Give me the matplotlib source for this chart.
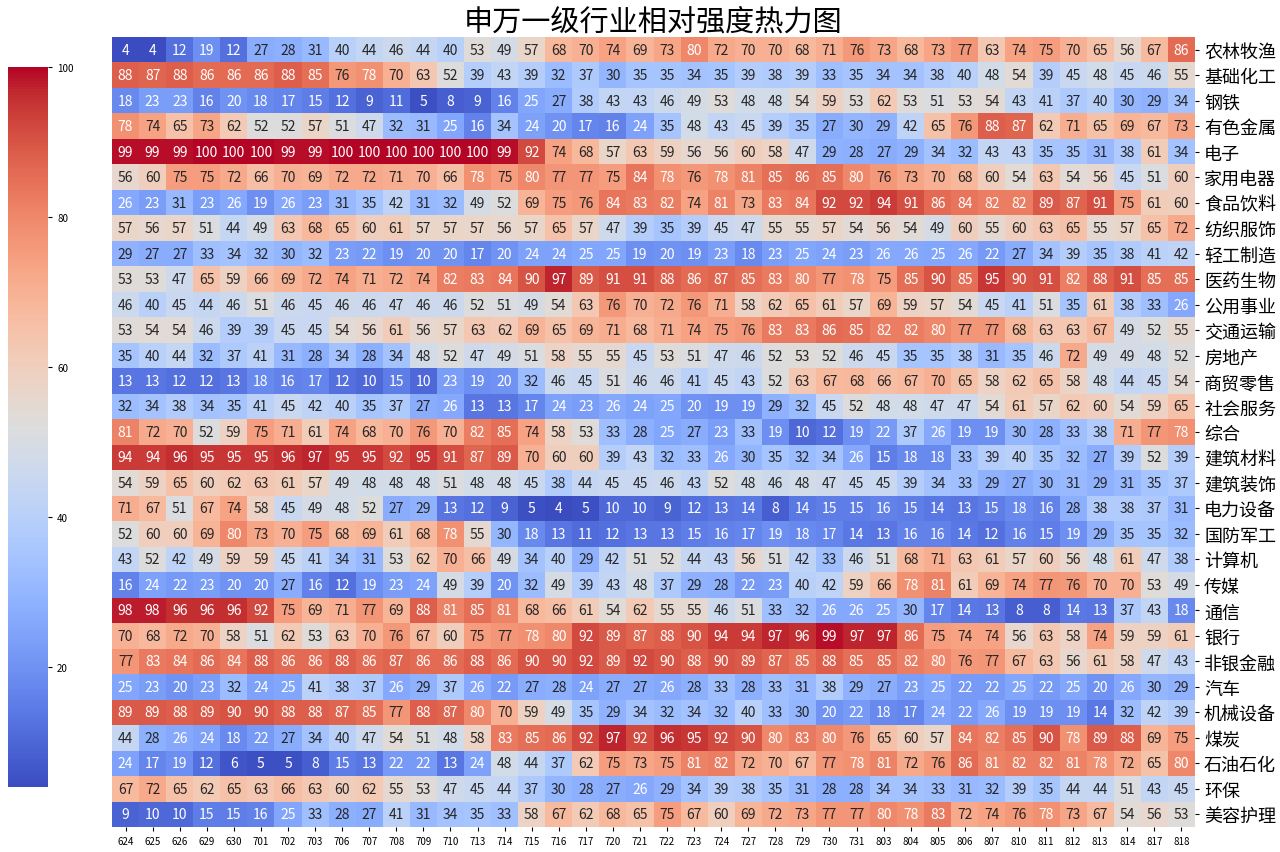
import matplotlib
matplotlib.use('Agg')
import matplotlib.pyplot as plt
import numpy as np
import pandas as pd
import seaborn as sns

plt.rcParams['font.family'] = ['Noto Sans CJK SC', 'DejaVu Sans']

dates = ['624', '625', '626', '629', '630', '701', '702', '703', '706', '707',
         '708', '709', '710', '713', '714', '715', '716', '717', '720', '721',
         '722', '723', '724', '727', '728', '729', '730', '731', '803', '804',
         '805', '806', '807', '810', '811', '812', '813', '814', '817', '818']

industries = ['农林牧渔', '基础化工', '钢铁', '有色金属', '电子', '家用电器', '食品饮料',
              '纺织服饰', '轻工制造', '医药生物', '公用事业', '交通运输', '房地产', '商贸零售',
              '社会服务', '综合', '建筑材料', '建筑装饰', '电力设备', '国防军工', '计算机',
              '传媒', '通信', '银行', '非银金融', '汽车', '机械设备', '煤炭', '石油石化',
              '环保', '美容护理']

# relative strength score per industry, one row per industry, one column per date
scores = [
    [4, 4, 12, 19, 12, 27, 28, 31, 40, 44, 46, 44, 40, 53, 49, 57, 68, 70, 74, 69, 73, 80, 72, 70, 70, 68, 71, 76, 73, 68, 73, 77, 63, 74, 75, 70, 65, 56, 67, 86],
    [88, 87, 88, 86, 86, 86, 88, 85, 76, 78, 70, 63, 52, 39, 43, 39, 32, 37, 30, 35, 35, 34, 35, 39, 38, 39, 33, 35, 34, 34, 38, 40, 48, 54, 39, 45, 48, 45, 46, 55],
    [18, 23, 23, 16, 20, 18, 17, 15, 12, 9, 11, 5, 8, 9, 16, 25, 27, 38, 43, 43, 46, 49, 53, 48, 48, 54, 59, 53, 62, 53, 51, 53, 54, 43, 41, 37, 40, 30, 29, 34],
    [78, 74, 65, 73, 62, 52, 52, 57, 51, 47, 32, 31, 25, 16, 34, 24, 20, 17, 16, 24, 35, 48, 43, 45, 39, 35, 27, 30, 29, 42, 65, 76, 88, 87, 62, 71, 65, 69, 67, 73],
    [99, 99, 99, 100, 100, 100, 99, 99, 100, 100, 100, 100, 100, 100, 99, 92, 74, 68, 57, 63, 59, 56, 56, 60, 58, 47, 29, 28, 27, 29, 34, 32, 43, 43, 35, 35, 31, 38, 61, 34],
    [56, 60, 75, 75, 72, 66, 70, 69, 72, 72, 71, 70, 66, 78, 75, 80, 77, 77, 75, 84, 78, 76, 78, 81, 85, 86, 85, 80, 76, 73, 70, 68, 60, 54, 63, 54, 56, 45, 51, 60],
    [26, 23, 31, 23, 26, 19, 26, 23, 31, 35, 42, 31, 32, 49, 52, 69, 75, 76, 84, 83, 82, 74, 81, 73, 83, 84, 92, 92, 94, 91, 86, 84, 82, 82, 89, 87, 91, 75, 61, 60],
    [57, 56, 57, 51, 44, 49, 63, 68, 65, 60, 61, 57, 57, 57, 56, 57, 65, 57, 47, 39, 35, 39, 45, 47, 55, 55, 57, 54, 56, 54, 49, 60, 55, 60, 63, 65, 55, 57, 65, 72],
    [29, 27, 27, 33, 34, 32, 30, 32, 23, 22, 19, 20, 20, 17, 20, 24, 24, 25, 25, 19, 20, 19, 23, 18, 23, 25, 24, 23, 26, 26, 25, 26, 22, 27, 34, 39, 35, 38, 41, 42],
    [53, 53, 47, 65, 59, 66, 69, 72, 74, 71, 72, 74, 82, 83, 84, 90, 97, 89, 91, 91, 88, 86, 87, 85, 83, 80, 77, 78, 75, 85, 90, 85, 95, 90, 91, 82, 88, 91, 85, 85],
    [46, 40, 45, 44, 46, 51, 46, 45, 46, 46, 47, 46, 46, 52, 51, 49, 54, 63, 76, 70, 72, 76, 71, 58, 62, 65, 61, 57, 69, 59, 57, 54, 45, 41, 51, 35, 61, 38, 33, 26],
    [53, 54, 54, 46, 39, 39, 45, 45, 54, 56, 61, 56, 57, 63, 62, 69, 65, 69, 71, 68, 71, 74, 75, 76, 83, 83, 86, 85, 82, 82, 80, 77, 77, 68, 63, 63, 67, 49, 52, 55],
    [35, 40, 44, 32, 37, 41, 31, 28, 34, 28, 34, 48, 52, 47, 49, 51, 58, 55, 55, 45, 53, 51, 47, 46, 52, 53, 52, 46, 45, 35, 35, 38, 31, 35, 46, 72, 49, 49, 48, 52],
    [13, 13, 12, 12, 13, 18, 16, 17, 12, 10, 15, 10, 23, 19, 20, 32, 46, 45, 51, 46, 46, 41, 45, 43, 52, 63, 67, 68, 66, 67, 70, 65, 58, 62, 65, 58, 48, 44, 45, 54],
    [32, 34, 38, 34, 35, 41, 45, 42, 40, 35, 37, 27, 26, 13, 13, 17, 24, 23, 26, 24, 25, 20, 19, 19, 29, 32, 45, 52, 48, 48, 47, 47, 54, 61, 57, 62, 60, 54, 59, 65],
    [81, 72, 70, 52, 59, 75, 71, 61, 74, 68, 70, 76, 70, 82, 85, 74, 58, 53, 33, 28, 25, 27, 23, 33, 19, 10, 12, 19, 22, 37, 26, 19, 19, 30, 28, 33, 38, 71, 77, 78],
    [94, 94, 96, 95, 95, 95, 96, 97, 95, 95, 92, 95, 91, 87, 89, 70, 60, 60, 39, 43, 32, 33, 26, 30, 35, 32, 34, 26, 15, 18, 18, 33, 39, 40, 35, 32, 27, 39, 52, 39],
    [54, 59, 65, 60, 62, 63, 61, 57, 49, 48, 48, 48, 51, 48, 48, 45, 38, 44, 45, 45, 46, 43, 52, 48, 46, 48, 47, 45, 45, 39, 34, 33, 29, 27, 30, 31, 29, 31, 35, 37],
    [71, 67, 51, 67, 74, 58, 45, 49, 48, 52, 27, 29, 13, 12, 9, 5, 4, 5, 10, 10, 9, 12, 13, 14, 8, 14, 15, 15, 16, 15, 14, 13, 15, 18, 16, 28, 38, 38, 37, 31],
    [52, 60, 60, 69, 80, 73, 70, 75, 68, 69, 61, 68, 78, 55, 30, 18, 13, 11, 12, 13, 13, 15, 16, 17, 19, 18, 17, 14, 13, 16, 16, 14, 12, 16, 15, 19, 29, 35, 35, 32],
    [43, 52, 42, 49, 59, 59, 45, 41, 34, 31, 53, 62, 70, 66, 49, 34, 40, 29, 42, 51, 52, 44, 43, 56, 51, 42, 33, 46, 51, 68, 71, 63, 61, 57, 60, 56, 48, 61, 47, 38],
    [16, 24, 22, 23, 20, 20, 27, 16, 12, 19, 23, 24, 49, 39, 20, 32, 49, 39, 43, 48, 37, 29, 28, 22, 23, 40, 42, 59, 66, 78, 81, 61, 69, 74, 77, 76, 70, 70, 53, 49],
    [98, 98, 96, 96, 96, 92, 75, 69, 71, 77, 69, 88, 81, 85, 81, 68, 66, 61, 54, 62, 55, 55, 46, 51, 33, 32, 26, 26, 25, 30, 17, 14, 13, 8, 8, 14, 13, 37, 43, 18],
    [70, 68, 72, 70, 58, 51, 62, 53, 63, 70, 76, 67, 60, 75, 77, 78, 80, 92, 89, 87, 88, 90, 94, 94, 97, 96, 99, 97, 97, 86, 75, 74, 74, 56, 63, 58, 74, 59, 59, 61],
    [77, 83, 84, 86, 84, 88, 86, 86, 88, 86, 87, 86, 86, 88, 86, 90, 90, 92, 89, 92, 90, 88, 90, 89, 87, 85, 88, 85, 85, 82, 80, 76, 77, 67, 63, 56, 61, 58, 47, 43],
    [25, 23, 20, 23, 32, 24, 25, 41, 38, 37, 26, 29, 37, 26, 22, 27, 28, 24, 27, 27, 26, 28, 33, 28, 33, 31, 38, 29, 27, 23, 25, 22, 22, 25, 22, 25, 20, 26, 30, 29],
    [89, 89, 88, 89, 90, 90, 88, 88, 87, 85, 77, 88, 87, 80, 70, 59, 49, 35, 29, 34, 32, 34, 32, 40, 33, 30, 20, 22, 18, 17, 24, 22, 26, 19, 19, 19, 14, 32, 42, 39],
    [44, 28, 26, 24, 18, 22, 27, 34, 40, 47, 54, 51, 48, 58, 83, 85, 86, 92, 97, 92, 96, 95, 92, 90, 80, 83, 80, 76, 65, 60, 57, 84, 82, 85, 90, 78, 89, 88, 69, 75],
    [24, 17, 19, 12, 6, 5, 5, 8, 15, 13, 22, 22, 13, 24, 48, 44, 37, 62, 75, 73, 75, 81, 82, 72, 70, 67, 77, 78, 81, 72, 76, 86, 81, 82, 82, 81, 78, 72, 65, 80],
    [67, 72, 65, 62, 65, 63, 66, 63, 60, 62, 55, 53, 47, 45, 44, 37, 30, 28, 27, 26, 29, 34, 39, 38, 35, 31, 28, 28, 34, 34, 33, 31, 32, 39, 35, 44, 44, 51, 43, 45],
    [9, 10, 10, 15, 15, 16, 25, 33, 28, 27, 41, 31, 34, 35, 33, 58, 67, 62, 68, 65, 75, 67, 60, 69, 72, 73, 77, 77, 80, 78, 83, 72, 74, 76, 78, 73, 67, 54, 56, 53],
]

df = pd.DataFrame(scores, index=industries, columns=dates)

fig = plt.figure(figsize=(12.8, 8.53), dpi=100)
ax = fig.add_axes([0.0875, 0.0293, 0.8461, 0.9262])
cax = fig.add_axes([0.00625, 0.0762, 0.03125, 0.8441])

sns.heatmap(df, ax=ax, cbar_ax=cax, cmap='coolwarm', annot=True, fmt='d',
            annot_kws={'fontsize': 10})

# industry names on the right side
ax.yaxis.tick_right()
ax.set_yticklabels(industries, rotation=0, fontsize=13)
ax.set_xticklabels(dates, rotation=0, fontsize=7)
ax.tick_params(axis='both', length=3, width=0.8)
ax.set_xlabel('')
ax.set_ylabel('')

cax.yaxis.tick_right()
cax.tick_params(labelsize=7, length=3)

ax.set_title('申万一级行业相对强度热力图', fontsize=21, pad=2)

fig.savefig('out.png', dpi=100)
plt.close(fig)
